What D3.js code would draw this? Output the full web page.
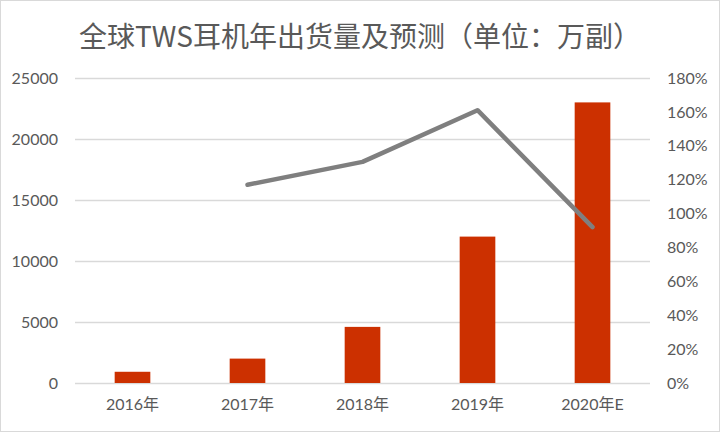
<!DOCTYPE html>
<meta charset="utf-8">
<style>
body {
    margin: 0;
    padding: 0;
    background: #fff;
}
text {
    font-family: Lato, "Noto Sans CJK SC", sans-serif;
    fill: #595959;
}
</style>
<svg width="720" height="432"></svg>
<script src="https://d3js.org/d3.v7.min.js"></script>
<script>
// data
var years = ["2016年", "2017年", "2018年", "2019年", "2020年E"];
var shipments = [920, 2000, 4600, 12000, 23000];     // 万副
var growth = [null, 1.17, 1.305, 1.61, 0.92];        // YoY growth
var leftTicks = [0, 5000, 10000, 15000, 20000, 25000];
var rightTicks = [0, 0.2, 0.4, 0.6, 0.8, 1.0, 1.2, 1.4, 1.6, 1.8];

var svg = d3.select("svg"),
    width = +svg.attr("width"),
    height = +svg.attr("height");

var margin = {top: 78, right: 70, bottom: 49, left: 75};

// outer border like the Excel chart area
svg.append("rect")
    .attr("x", 0.5).attr("y", 0.5)
    .attr("width", width - 1).attr("height", height - 1)
    .attr("fill", "#fff")
    .attr("stroke", "#d9d9d9");

// title
svg.append("text")
    .attr("x", 360)
    .attr("y", 47)
    .attr("text-anchor", "middle")
    .style("font-family", "'Noto Sans CJK SC', sans-serif")
    .style("font-size", "28px")
    .text("全球TWS耳机年出货量及预测（单位：万副）");

var x = d3.scaleBand()
    .domain(years)
    .range([margin.left, width - margin.right])
    .paddingInner(0.69)
    .paddingOuter(0.345);

var y = d3.scaleLinear()
    .domain([0, 25000])
    .range([height - margin.bottom, margin.top]);

var y2 = d3.scaleLinear()
    .domain([0, 1.8])
    .range([height - margin.bottom, margin.top]);

// gridlines
svg.append("g")
    .selectAll("line")
    .data(leftTicks)
    .enter().append("line")
      .attr("x1", margin.left)
      .attr("x2", width - margin.right)
      .attr("y1", function(d) { return Math.round(y(d)) + 0.5; })
      .attr("y2", function(d) { return Math.round(y(d)) + 0.5; })
      .attr("stroke", "#d9d9d9")
      .attr("stroke-width", 1.5);

// left axis
var leftAxis = svg.append("g")
    .attr("transform", "translate(" + (margin.left - 17) + ",0)")
    .call(d3.axisLeft(y).tickValues(leftTicks).tickSize(0).tickPadding(0).tickFormat(d3.format("d")));
leftAxis.select(".domain").remove();
leftAxis.selectAll("text").style("font-size", "16px").style("fill", "#595959");

// right axis
var rightAxis = svg.append("g")
    .attr("transform", "translate(" + (width - margin.right + 17) + ",0)")
    .call(d3.axisRight(y2).tickValues(rightTicks).tickSize(0).tickPadding(0).tickFormat(d3.format(".0%")));
rightAxis.select(".domain").remove();
rightAxis.selectAll("text").style("font-size", "16px").style("fill", "#595959");

// x axis labels
var xAxis = svg.append("g")
    .attr("transform", "translate(0," + (height - margin.bottom + 16) + ")")
    .call(d3.axisBottom(x).tickSize(0).tickPadding(0));
xAxis.select(".domain").remove();
xAxis.selectAll("text").style("font-size", "16px").style("fill", "#595959");

// bars
svg.append("g")
    .selectAll("rect")
    .data(shipments)
    .enter().append("rect")
      .attr("x", function(d, i) { return x(years[i]); })
      .attr("y", function(d) { return y(d); })
      .attr("width", x.bandwidth())
      .attr("height", function(d) { return y(0) - y(d); })
      .attr("fill", "#cc3000");

// growth line
var line = d3.line()
    .defined(function(d) { return d != null; })
    .x(function(d, i) { return x(years[i]) + x.bandwidth() / 2; })
    .y(function(d) { return y2(d); });

svg.append("path")
    .datum(growth)
    .attr("d", line)
    .attr("fill", "none")
    .attr("stroke", "#7f7f7f")
    .attr("stroke-width", 4.5)
    .attr("stroke-linecap", "round")
    .attr("stroke-linejoin", "round");
</script>
